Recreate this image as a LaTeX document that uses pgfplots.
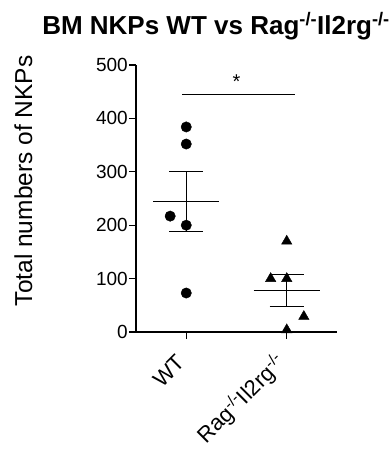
\documentclass[border=0pt]{standalone}
\usepackage{pgfplots}
\pgfplotsset{compat=1.18}
\usepackage{fontspec}
\setmainfont{Liberation Sans}
\begin{document}
\begin{tikzpicture}[x=1pt,y=1pt]
\useasboundingbox (-136,-120) rectangle (253,332);
\begin{axis}[
  at={(0,0)}, anchor=south west,
  scale only axis, width=201pt, height=267pt,
  xmin=-0.5, xmax=1.5, ymin=0, ymax=500,
  axis x line*=bottom, axis y line*=left,
  axis line style={line width=1.1pt},
  tick style={line width=1.1pt, black},
  tick align=outside, major tick length=7pt,
  xtick={0,1}, xticklabels={WT, Rag\textsuperscript{-/-}Il2rg\textsuperscript{-/-}},
  xticklabel style={yshift=-20pt, xshift=-5pt, rotate=45, anchor=east, font=\fontsize{22}{24}\selectfont, inner sep=0pt},
  ytick={0,100,200,300,400,500},
  yticklabel style={font=\fontsize{19}{21}\selectfont, inner sep=1pt},
  /pgf/number format/assume math mode=true,
  ylabel={Total numbers of NKPs},
  ylabel style={at={(axis description cs:-0.56,0.566)}, anchor=center, rotate=0, font=\fontsize{24.5}{26}\selectfont},
  clip=false,
]
% WT points
\addplot[only marks, mark=*, mark size=5.2pt, black] coordinates {
 (0,384) (0,352) (-0.16,217) (0,200) (0,73)};
% Rag points
\addplot[only marks, mark=triangle*, mark size=6pt, black] coordinates {
 (1,170) (0.84,100) (1,100) (1.17,29) (1,4)};
% WT mean & SEM
\addplot[black, line width=1.1pt] coordinates {(-0.33,245) (0.33,245)};
\addplot[black, line width=1.1pt] coordinates {(0,189) (0,301)};
\addplot[black, line width=1.1pt] coordinates {(-0.17,301) (0.17,301)};
\addplot[black, line width=1.1pt] coordinates {(-0.17,189) (0.17,189)};
% Rag mean & SEM
\addplot[black, line width=1.1pt] coordinates {(0.67,78) (1.33,78)};
\addplot[black, line width=1.1pt] coordinates {(1,47) (1,108)};
\addplot[black, line width=1.1pt] coordinates {(0.83,108) (1.17,108)};
\addplot[black, line width=1.1pt] coordinates {(0.83,47) (1.17,47)};
% significance
\addplot[black, line width=1.1pt] coordinates {(-0.04,445) (1.08,445)};
\node[font=\fontsize{20}{22}\selectfont] at (axis cs:0.5,468) {*};
\end{axis}
\node[font=\bfseries\fontsize{26}{28}\selectfont] at (80,306) {BM NKPs WT vs Rag\textsuperscript{-/-}Il2rg\textsuperscript{-/-}};
\end{tikzpicture}
\end{document}
